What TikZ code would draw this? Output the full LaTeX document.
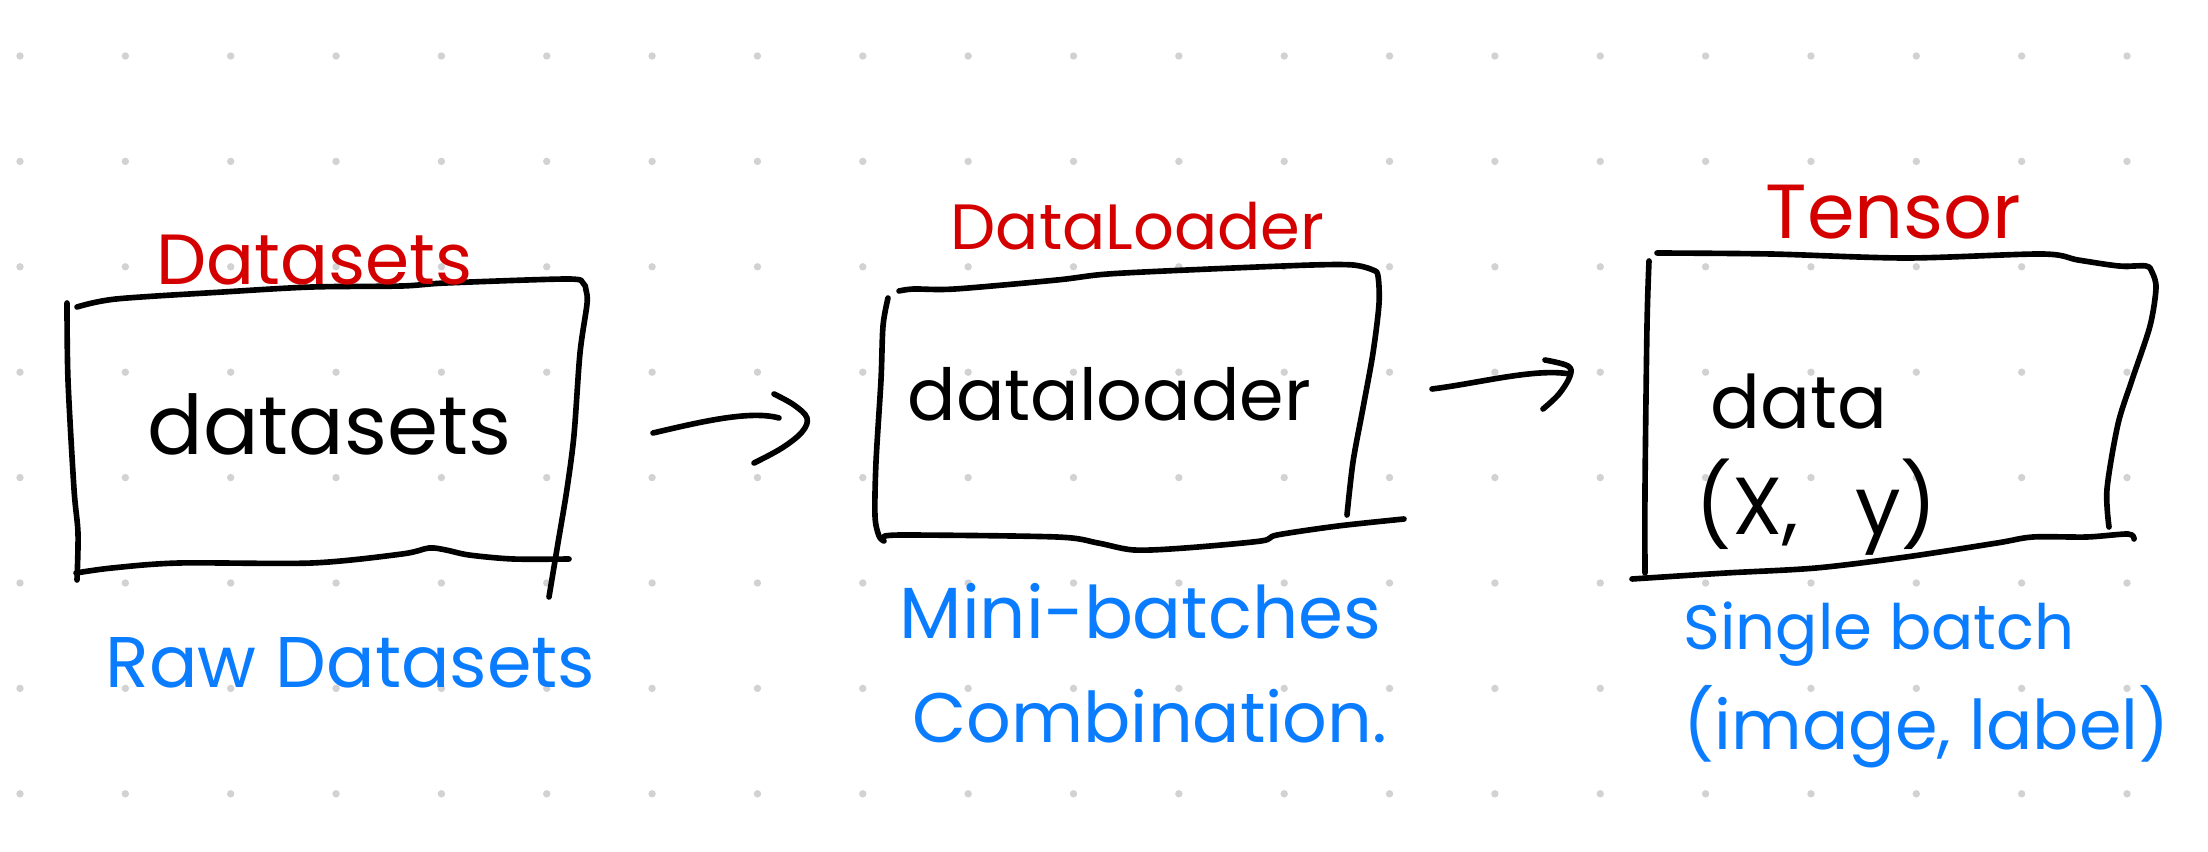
\documentclass[tikz,border=0pt]{standalone}
\usepackage{fontspec}
\setmainfont{Poppins}
\definecolor{inkred}{RGB}{212,0,0}
\definecolor{inkblue}{RGB}{10,124,255}
\definecolor{dotc}{RGB}{210,210,210}
\begin{document}
\begin{tikzpicture}[x=0.01cm, y=-0.01cm,
  pen/.style={line width=1.6pt, line cap=round, line join=round},
  lbl/.style={inner sep=0pt, anchor=base west},
  fs/.style={font=\fontsize{#1}{#1}\selectfont},
  redlbl/.style={lbl, text=inkred},
  bluelbl/.style={lbl, text=inkblue},
  blacklbl/.style={lbl, text=black},
  boxarea/.style={draw=none, inner sep=0pt}]
\useasboundingbox (0,0) rectangle (2208,852);
\fill[white] (0,0) rectangle (2208,852);
% dot grid
\foreach \i in {0,...,20}
  \foreach \j in {0,...,7}
    \fill[dotc] ({20+105.35*\i},{56+105.4*\j}) circle[radius=0.037cm];

% box areas (named)
\node[boxarea, minimum width=5.1cm, minimum height=2.9cm] (b1) at (326,432) {};
\node[boxarea, minimum width=5.0cm, minimum height=2.7cm] (b2) at (1130,405) {};
\node[boxarea, minimum width=5.0cm, minimum height=3.2cm] (b3) at (1895,415) {};

% box 1 outline
\draw[pen] plot[smooth, tension=0.5] coordinates {(77,307) (116,299) (223,292) (312,287) (402,286) (446,283) (567,279) (583,283) (586,290) (587,304) (580,353) (574,435) (567,489) (558,543) (549,597)};
\draw[pen] plot[smooth, tension=0.5] coordinates {(67,303) (68,380) (74,489) (78,533) (77,580)};
\draw[pen] plot[smooth, tension=0.5] coordinates {(76,573) (112,568) (179,563) (312,563) (402,554) (429,548) (446,550) (469,555) (513,559) (569,559)};

% box 2 outline
\draw[pen] plot[smooth, tension=0.5] coordinates {(899,291) (914,289) (955,289) (1057,280) (1108,274) (1210,269) (1312,265) (1353,265) (1373,270) (1378,276) (1379,304) (1373,353) (1363,408) (1353,462) (1347,515)};
\draw[pen] plot[smooth, tension=0.5] coordinates {(888,298) (883,326) (881,380) (876,462) (875,516) (879,536) (884,541)};
\draw[pen] plot[smooth, tension=0.5] coordinates {(884,537) (904,535) (1057,537) (1098,543) (1134,550) (1185,548) (1261,541) (1277,535) (1338,526) (1404,519)};

% box 3 outline
\draw[pen] plot[smooth, tension=0.5] coordinates {(1657,253) (1771,254) (1906,258) (2042,254) (2078,260) (2119,266) (2146,266) (2152,272) (2156,288) (2150,326) (2132,380) (2118,424) (2107,489) (2109,527)};
\draw[pen] plot[smooth, tension=0.5] coordinates {(1649,261) (1647,326) (1645,489) (1645,573)};
\draw[pen] plot[smooth, tension=0.5] coordinates {(1632,579) (1726,573) (1816,568) (1906,557) (1997,543) (2033,537) (2087,537) (2128,534) (2134,539)};

% arrows
\coordinate (a1s) at (653,433);
\coordinate (a1e) at (779,418);
\coordinate (a2s) at (1432,389);
\coordinate (a2e) at (1570,374);
\draw[pen] (a1s) .. controls (700,422) and (750,410) .. (a1e);
\draw[pen] plot[smooth, tension=0.6] coordinates {(774,394) (794,405) (807,418) (802,432) (782,448) (754,463)};
\draw[pen] (a2s) .. controls (1480,383) and (1535,368) .. (a2e);
\draw[pen] plot[smooth, tension=0.6] coordinates {(1545,360) (1568,366) (1570,376) (1559,394) (1543,409)};

% labels
\node[redlbl, fs=20.2pt] (t1) at (156,285) {Datasets};
\node[blacklbl, fs=23.4pt] (c1) at (147,455) {datasets};
\node[bluelbl, fs=20.4pt] (d1) at (105,688) {Raw Datasets};

\node[redlbl, fs=18.2pt] (t2) at (950,250) {DataLoader};
\node[blacklbl, fs=20.4pt] (c2) at (907,421) {dataloader};
\node[bluelbl, fs=20.6pt] (d2a) at (899,639) {Mini-batches};
\node[bluelbl, fs=19.9pt] (d2b) at (912,742) {Combination.};

\node[redlbl, fs=21.8pt] (t3) at (1765,239) {Tensor};
\node[blacklbl, fs=21pt] (c3a) at (1710,429) {data};
\node[blacklbl, fs=23pt] (c3b) at (1695,535) {(X,\hspace{0.7em}y)};
\node[bluelbl, fs=17.8pt] (d3a) at (1683,650) {Single batch};
\node[bluelbl, fs=19.5pt] (d3b) at (1683,750) {(image, label)};
\end{tikzpicture}
\end{document}
